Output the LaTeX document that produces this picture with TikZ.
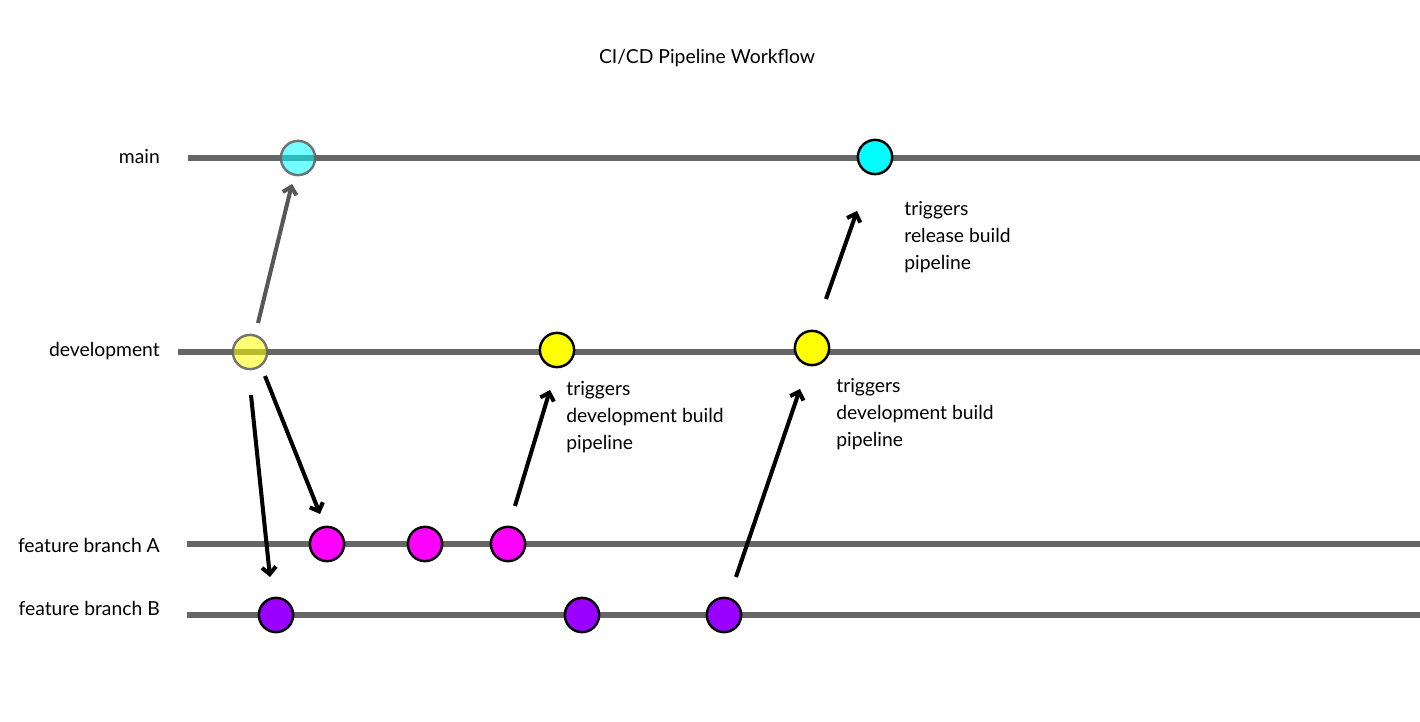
\documentclass[tikz,border=0pt]{standalone}
\usepackage{fontspec}
\setmainfont{Lato}
\usepackage{xcolor}
\usetikzlibrary{arrows.meta}
\definecolor{branchgray}{HTML}{666666}
\definecolor{cyancommit}{HTML}{00FFFF}
\definecolor{yellowcommit}{HTML}{FFFF00}
\definecolor{magentacommit}{HTML}{FF00FF}
\definecolor{purplecommit}{HTML}{9900FF}
\tikzset{
    branch/.style={draw=branchgray, line width=3.4pt},
    commit/.style={circle, draw=black, line width=1.4pt, minimum size=19.5pt, inner sep=0pt},
    faded/.style={commit, draw=branchgray, opacity=0.9, fill opacity=0.55},
    label/.style={font=\fontsize{11}{15}\selectfont, anchor=east},
    note/.style={font=\fontsize{11}{15.5}\selectfont, align=left, anchor=north west, inner sep=0pt},
    merge/.style={line width=2.3pt, -{Straight Barb[length=4pt,width=8pt]}},
}
\begin{document}
\begin{tikzpicture}[x=0.02cm, y=-0.02cm]
    \useasboundingbox (0,0) rectangle (1420,722);

    % Title
    \node[font=\fontsize{11}{13}\selectfont] (title) at (707,58) {CI/CD Pipeline Workflow};

    % Branches
    \node[label] (main) at (166,157) {main};
    \node[label] (dev) at (166,351) {development};
    \node[label] (featA) at (166,545) {feature branch A};
    \node[label] (featB) at (166,608) {feature branch B};
    \draw[branch] (188,158) -- (1420,158);
    \draw[branch] (178,352) -- (1420,352);
    \draw[branch] (187,544) -- (1420,544);
    \draw[branch] (187,615) -- (1420,615);

    % Commits
    \node[faded, fill=cyancommit] (m1) at (298,158) {};
    \node[commit, fill=cyancommit] (m2) at (875,157) {};
    \node[faded, fill=yellowcommit] (d1) at (250,352) {};
    \node[commit, fill=yellowcommit] (d2) at (557,350) {};
    \node[commit, fill=yellowcommit] (d3) at (812,348) {};
    \node[commit, fill=magentacommit] (a1) at (327,544) {};
    \node[commit, fill=magentacommit] (a2) at (425,544) {};
    \node[commit, fill=magentacommit] (a3) at (508,544) {};
    \node[commit, fill=purplecommit] (b1) at (276,615) {};
    \node[commit, fill=purplecommit] (b2) at (582,615) {};
    \node[commit, fill=purplecommit] (b3) at (724,615) {};

    % Arrow ends
    \coordinate (g0) at (258,323); \coordinate (g1) at (292,184);
    \coordinate (p0) at (265,376); \coordinate (p1) at (320,514);
    \coordinate (q0) at (251,395); \coordinate (q1) at (270,577);
    \coordinate (r0) at (515,506); \coordinate (r1) at (550,390);
    \coordinate (s0) at (736,577); \coordinate (s1) at (800,389);
    \coordinate (t0) at (826,299); \coordinate (t1) at (857,211);

    % Merges
    \draw[merge, draw=branchgray!85!black] (g0) -- (g1);
    \draw[merge] (p0) -- (p1);
    \draw[merge] (q0) -- (q1);
    \draw[merge] (r0) -- (r1);
    \draw[merge] (s0) -- (s1);
    \draw[merge] (t0) -- (t1);

    % Notes
    \node[note] (n1) at (566,381) {triggers\\development build\\pipeline};
    \node[note] (n2) at (836,378) {triggers\\development build\\pipeline};
    \node[note] (n3) at (904,201) {triggers\\release build\\pipeline};
\end{tikzpicture}
\end{document}
